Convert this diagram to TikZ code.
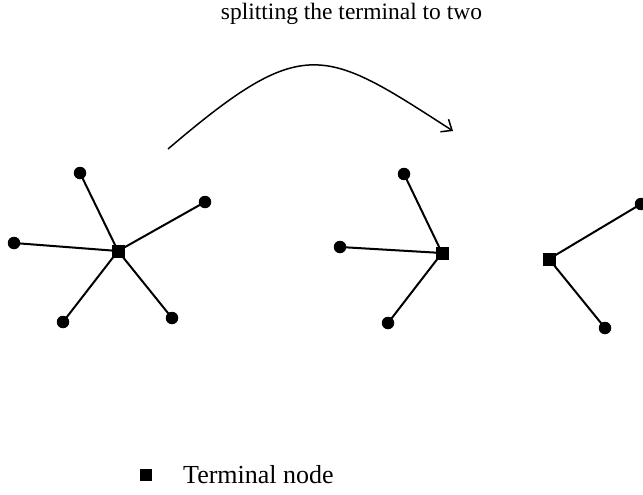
\documentclass[tikz,border=0pt]{standalone}
\usepackage{fontspec}
\setmainfont{Liberation Serif}
\usetikzlibrary{arrows.meta}
\begin{document}
\begin{tikzpicture}[x=1pt,y=-1pt,
  leaf/.style={circle,fill=black,inner sep=0pt,minimum size=12.5pt},
  term/.style={rectangle,fill=black,inner sep=0pt,minimum size=13pt},
  edge/.style={line width=2pt,black},
  curvearrow/.style={line width=1.5pt,-{Straight Barb[length=9pt,width=15pt,line width=1.5pt]}}]
\useasboundingbox (0,0) rectangle (643,495);
% title
\node[anchor=base,inner sep=0pt,font=\fontsize{23.5}{26}\selectfont] (title) at (351.5,20) {splitting the terminal to two};
% arrow
\coordinate (as) at (168,149);
\coordinate (ae) at (453,131);
\draw[curvearrow] (as) .. controls (304,33) and (323,47) .. (ae);
% left star
\node[term] (t1) at (118,251) {};
\node[leaf] (l1) at (80,173) {};
\node[leaf] (l2) at (205,202) {};
\node[leaf] (l3) at (14,243) {};
\node[leaf] (l4) at (63,322) {};
\node[leaf] (l5) at (172,318) {};
\foreach \n in {l1,l2,l3,l4,l5} \draw[edge] (t1.center) -- (\n.center);
% middle
\node[term] (t2) at (442,253) {};
\node[leaf] (m1) at (404,174) {};
\node[leaf] (m2) at (340,247) {};
\node[leaf] (m3) at (388,323) {};
\foreach \n in {m1,m2,m3} \draw[edge] (t2.center) -- (\n.center);
% right
\node[term] (t3) at (549,259) {};
\node[leaf] (r1) at (641,204) {};
\node[leaf] (r2) at (605,328) {};
\foreach \n in {r1,r2} \draw[edge] (t3.center) -- (\n.center);
% legend
\node[term,minimum size=12pt] (lg) at (146,475) {};
\node[anchor=base west,inner sep=0pt,font=\fontsize{26}{29}\selectfont] (lgt) at (183,483) {Terminal node};
\end{tikzpicture}
\end{document}
